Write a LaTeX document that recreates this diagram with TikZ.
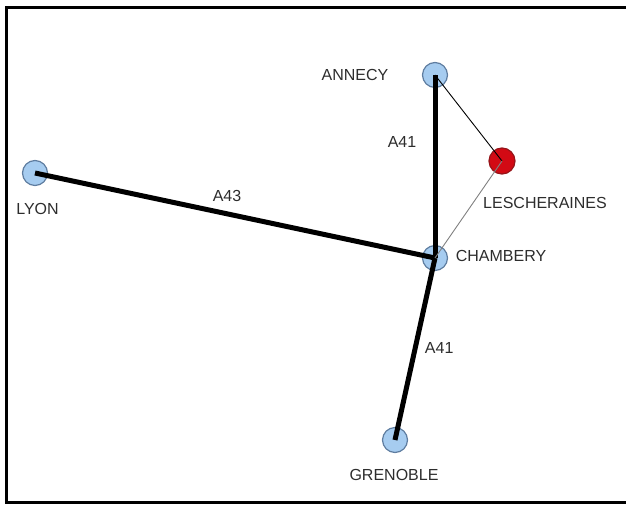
\documentclass[tikz,border=0pt]{standalone}
\usepackage{fontspec}
\setmainfont{Liberation Sans}
\usetikzlibrary{calc}
\definecolor{cityblue}{RGB}{166,204,240}
\definecolor{cityedge}{RGB}{95,125,160}
\definecolor{villagered}{RGB}{210,10,20}
\definecolor{villageedge}{RGB}{150,20,25}
\definecolor{labelgray}{RGB}{45,45,45}
\newcommand*{\RoadWidth}{5pt}

\begin{document}
\begin{tikzpicture}
	[x=1pt,y=-1pt,
	city/.style={circle, fill=cityblue, draw=cityedge, line width=1.2pt, minimum size=25pt, inner sep=0pt},
	village/.style={circle, fill=villagered, draw=villageedge, line width=1.2pt, minimum size=26pt, inner sep=0pt},
	placename/.style={text=labelgray, font=\fontsize{16}{19}\selectfont, inner sep=0pt},
	road/.style={line width=\RoadWidth},
	track/.style={line width=0.9pt}];

	\useasboundingbox (0,0) rectangle (626,506);

	%Frame
	\draw[line width=3pt] (626,7.5) -- (6.5,7.5) -- (6.5,502.5) -- (626,502.5);

	%Towns
	\node[city] (annecy) at (435,75) {};
	\node[village] (lescheraines) at (502,161) {};
	\node[city] (lyon) at (35,173) {};
	\node[city] (chambery) at (435,258) {};
	\node[city] (grenoble) at (395,440) {};

	%Names
	\node[placename] (annecyname) at (355,74.5) {ANNECY};
	\node[placename] (leschname) at (545,203) {LESCHERAINES};
	\node[placename] (lyonname) at (37.5,209) {LYON};
	\node[placename] (chamberyname) at (501,256) {CHAMBERY};
	\node[placename] (grenoblename) at (394,475) {GRENOBLE};

	%Roads
	\draw[road] (lyon.center) -- (chambery.center) node[placename, pos=0.48, yshift=18pt] (a43) {A43};
	\draw[road] (annecy.center) -- (chambery.center) node[placename, pos=0.365, xshift=-33pt] (a41north) {A41};
	\draw[road] (chambery.center) -- (grenoble.center) node[placename, pos=0.495, xshift=24pt] (a41south) {A41};
	\draw[track] (annecy.center) -- (lescheraines.center);
	\draw[track, draw=gray] (lescheraines.center) -- (chambery.center);
\end{tikzpicture}
\end{document}
